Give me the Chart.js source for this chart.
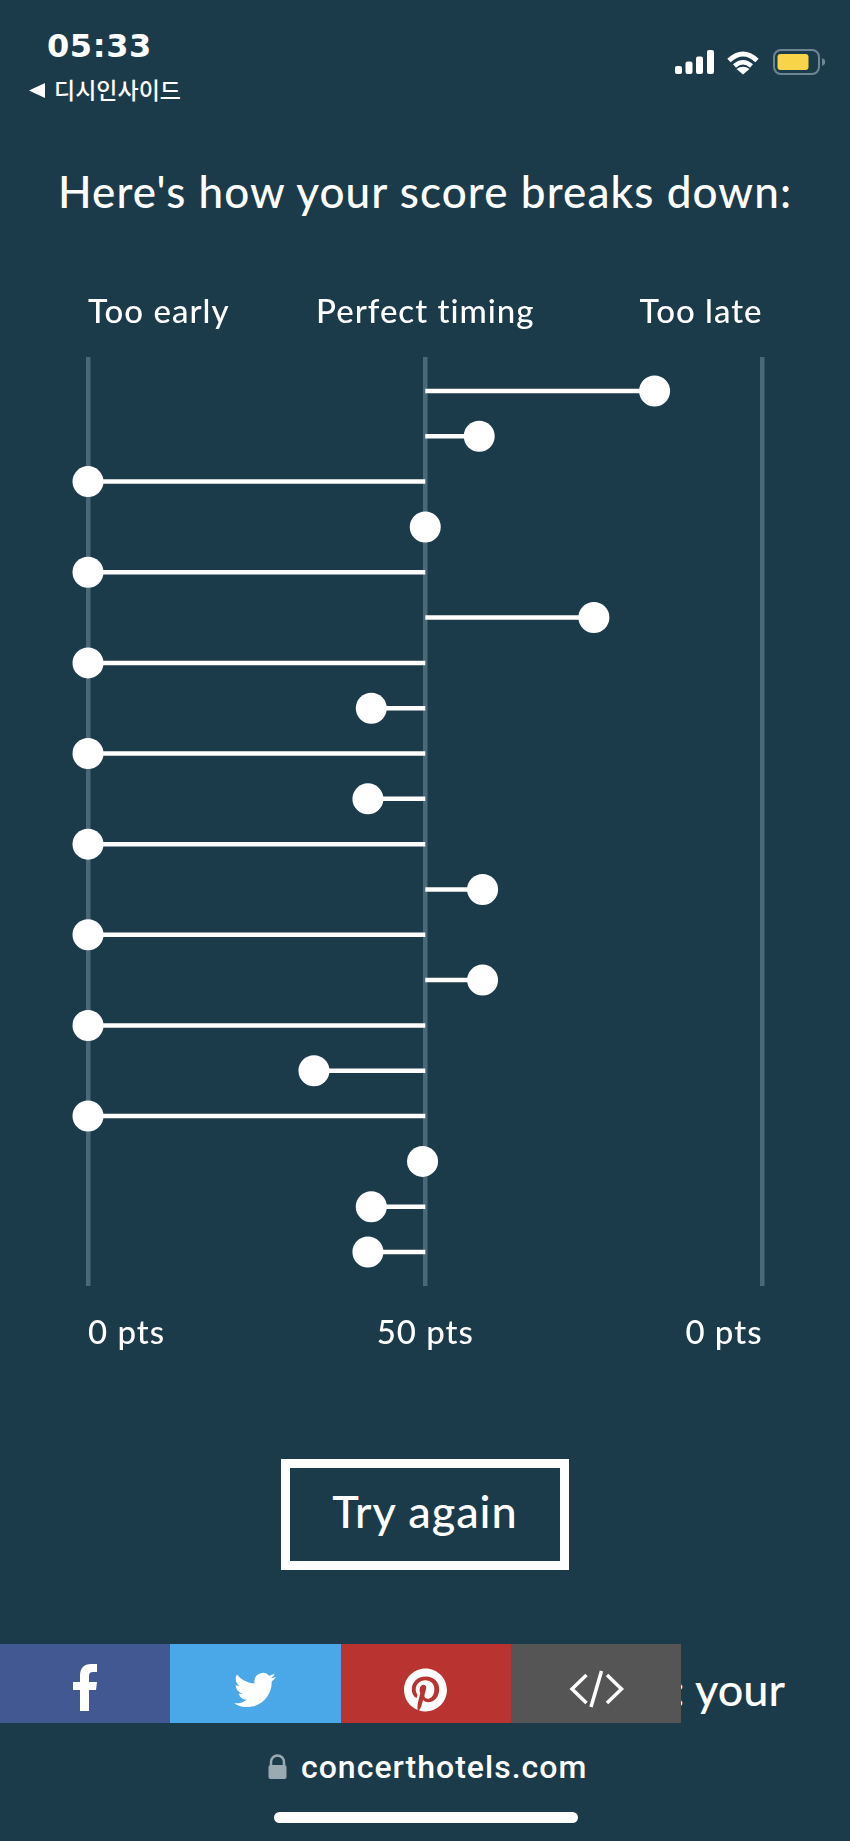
<!DOCTYPE html>
<html>
<head>
<meta charset="utf-8">
<title>Score breakdown</title>
<script src="https://cdn.jsdelivr.net/npm/chart.js@4"></script>
<style>
    html, body { margin: 0; padding: 0; background: #1c3b4a; }
    body { width: 850px; height: 1841px; position: relative; overflow: hidden; color: #fff; font-family: Lato, sans-serif; }
    .t { position: absolute; white-space: nowrap; line-height: 1; }
    #chartBox { position: absolute; left: 0; top: 280px; width: 850px; height: 1090px; }
    #clock { left: 47px; top: 30px; font: bold 32px "DejaVu Sans", sans-serif; letter-spacing: 0.6px; line-height: 1; }
    #back { left: 54px; top: 78px; font: 500 23px "Noto Sans CJK KR", sans-serif; line-height: 1; }
    #title { left: 0; width: 850px; top: 169px; text-align: center; font-size: 44px; font-weight: 500; letter-spacing: 1.1px; }
    #again { left: 281px; top: 1459px; width: 270px; height: 93px; border: 9px solid #fff; text-align: center; font-size: 45px; font-weight: 500; letter-spacing: 1px; line-height: 86px; }
    #peek { left: 673.5px; top: 1667px; font-size: 45px; font-weight: 500; }
    .share { position: absolute; top: 1644px; height: 79px; }
    #address { left: 301px; top: 1751px; font: 500 32px Roboto, sans-serif; letter-spacing: 1px; line-height: 1; }
    #homebar { position: absolute; left: 274px; top: 1812px; width: 304px; height: 11px; border-radius: 6px; background: #fff; }
    svg { position: absolute; left: 0; top: 0; }
</style>
</head>
<body>
    <div class="t" id="clock">05:33</div>
    <div class="t" id="back">디시인사이드</div>
    <div class="t" id="title">Here's how your score breaks down:</div>

    <div id="chartBox"><canvas id="chartCanvas"></canvas></div>

    <div class="t" id="again">Try again</div>
    <div class="t" id="peek">: your</div>

    <div class="share" style="left:0;width:170px;background:#425892"></div>
    <div class="share" style="left:170px;width:171px;background:#4aa7e8"></div>
    <div class="share" style="left:341px;width:170px;background:#b93431"></div>
    <div class="share" style="left:511px;width:170px;background:#555555"></div>

    <div class="t" id="address">concerthotels.com</div>
    <div id="homebar"></div>

    <svg width="850" height="1841" fill="#fff">
        <!-- back arrow -->
        <path d="M45 83 V98 L29 90.5 Z"/>
        <!-- signal -->
        <rect x="675" y="66" width="7" height="8" rx="2"/>
        <rect x="685.5" y="61.5" width="7" height="12.5" rx="2"/>
        <rect x="696" y="56.5" width="7" height="17.5" rx="2"/>
        <rect x="707" y="50" width="7" height="24" rx="2"/>
        <!-- wifi -->
        <path d="M729 60.5 Q743 47.5 757 60.5" fill="none" stroke="#fff" stroke-width="5"/>
        <path d="M734.5 66 Q743 58.5 751.5 66" fill="none" stroke="#fff" stroke-width="4.5"/>
        <path d="M743 74.5 L736.5 69 Q743 64.5 749.5 69 Z"/>
        <!-- battery -->
        <rect x="774" y="50" width="45" height="24" rx="7" fill="none" stroke="#6e8693" stroke-width="2"/>
        <rect x="777.5" y="54" width="31" height="16" rx="3" fill="#f7d448"/>
        <path d="M822 58 L825 60 V64 L822 66 Z" fill="#6e8693"/>
        <!-- facebook -->
        <path d="M80 1711 V1690 H73 V1682 H80 V1676 C80 1668 84 1664 91 1664 H97 V1672 H93 C90 1672 89 1673.5 89 1676 V1682 H97 L96 1690 H89 V1711 Z"/>
        <!-- twitter -->
        <path transform="translate(234 1669) scale(1.75)" d="M23.953 4.57a10 10 0 01-2.825.775 4.958 4.958 0 002.163-2.723c-.951.555-2.005.959-3.127 1.184a4.92 4.92 0 00-8.384 4.482C7.69 8.095 4.067 6.13 1.64 3.162a4.822 4.822 0 00-.666 2.475c0 1.71.87 3.213 2.188 4.096a4.904 4.904 0 01-2.228-.616v.06a4.923 4.923 0 003.946 4.827 4.996 4.996 0 01-2.212.085 4.936 4.936 0 004.604 3.417 9.867 9.867 0 01-6.102 2.105c-.39 0-.779-.023-1.17-.067a13.995 13.995 0 007.557 2.209c9.053 0 13.998-7.496 13.998-13.985 0-.21 0-.42-.015-.63A9.935 9.935 0 0024 4.59z"/>
        <!-- pinterest -->
        <path transform="translate(404 1668.5) scale(1.79)" d="M12.017 0C5.396 0 .029 5.367.029 11.987c0 5.079 3.158 9.417 7.618 11.162-.105-.949-.199-2.403.041-3.439.219-.937 1.406-5.957 1.406-5.957s-.359-.72-.359-1.781c0-1.663.967-2.911 2.168-2.911 1.024 0 1.518.769 1.518 1.688 0 1.029-.653 2.567-.992 3.992-.285 1.193.6 2.165 1.775 2.165 2.128 0 3.768-2.245 3.768-5.487 0-2.861-2.063-4.869-5.008-4.869-3.41 0-5.409 2.562-5.409 5.199 0 1.033.394 2.143.889 2.741.099.12.112.225.085.345-.09.375-.293 1.199-.334 1.363-.053.225-.172.271-.401.165-1.495-.69-2.433-2.878-2.433-4.646 0-3.776 2.748-7.252 7.92-7.252 4.158 0 7.392 2.967 7.392 6.923 0 4.135-2.607 7.462-6.233 7.462-1.214 0-2.354-.629-2.758-1.379l-.749 2.848c-.269 1.045-1.004 2.352-1.498 3.146 1.123.345 2.306.535 3.55.535 6.607 0 11.985-5.365 11.985-11.987C23.97 5.39 18.592.026 11.985.026L12.017 0z"/>
        <!-- embed -->
        <g fill="none" stroke="#fff" stroke-width="3.5">
            <path d="M586.5 1675 L572 1689 L586.5 1703"/>
            <path d="M601.5 1671 L591 1707"/>
            <path d="M607 1675 L621.5 1689 L607 1703"/>
        </g>
        <!-- lock -->
        <path d="M271 1765 V1762 A6.5 6.5 0 0 1 284 1762 V1765" fill="none" stroke="#9aa9b2" stroke-width="2.5"/>
        <rect x="268.5" y="1765" width="18" height="14" rx="2" fill="#9aa9b2"/>
    </svg>

    <script>
        // Tick labels above and below the plot
        const topLabels = ["Too early", "Perfect timing", "Too late"];
        const bottomLabels = ["0 pts", "50 pts", "0 pts"];

        // Question number, top to bottom
        const questions = [1, 2, 3, 4, 5, 6, 7, 8, 9, 10, 11, 12, 13, 14, 15, 16, 17, 18, 19, 20];
        // Where each answer landed: 0 = too early, 50 = perfect, 100 = too late
        const timing = [84, 58, 0, 50, 0, 75, 0, 42, 0, 41.5, 0, 58.5, 0, 58.5, 0, 33.5, 0, 49.6, 42, 41.5];
        const perfect = 50;

        // One dataset per row: a stem from the centre line out to the dot
        const stems = questions.map(function (q, i) {
            return {
                data: [{ x: perfect, y: q }, { x: timing[i], y: q }],
                showLine: true,
                borderColor: "#fff",
                borderWidth: 4.5,
                backgroundColor: "#fff",
                pointRadius: [0, 15.5],
                pointBorderWidth: 0,
                clip: false
            };
        });

        function labelFrom(list) {
            return function (value) {
                return list[value / 50];
            };
        }

        const labelFont = { family: "Lato", size: 33, weight: "500" };

        // the labels run wider than Lato, so space them out a bit
        const spacedText = {
            id: "spacedText",
            beforeLayout: function (chart) { chart.ctx.letterSpacing = "1px"; },
            beforeDraw: function (chart) { chart.ctx.letterSpacing = "1px"; }
        };

        new Chart(document.getElementById("chartCanvas"), {
            type: "scatter",
            data: { datasets: stems },
            plugins: [spacedText],
            options: {
                responsive: true,
                maintainAspectRatio: false,
                animation: false,
                layout: { padding: { left: 88, right: 87.5, top: 0, bottom: 0 } },
                plugins: { legend: { display: false }, tooltip: { enabled: false } },
                scales: {
                    x: {
                        type: "linear",
                        position: "bottom",
                        min: 0,
                        max: 100,
                        border: { display: false },
                        grid: { color: "#4a6877", lineWidth: 4.5, drawTicks: false },
                        afterFit: function (axis) { axis.height = 84; },
                        ticks: {
                            stepSize: 50,
                            align: "inner",
                            maxRotation: 0,
                            padding: 28,
                            color: "#fff",
                            font: labelFont,
                            callback: labelFrom(bottomLabels)
                        }
                    },
                    xTop: {
                        type: "linear",
                        position: "top",
                        min: 0,
                        max: 100,
                        border: { display: false },
                        grid: { display: false, drawTicks: false },
                        afterFit: function (axis) { axis.height = 77; },
                        ticks: {
                            stepSize: 50,
                            align: "inner",
                            maxRotation: 0,
                            padding: 25,
                            color: "#fff",
                            font: labelFont,
                            callback: labelFrom(topLabels)
                        }
                    },
                    y: {
                        type: "linear",
                        display: false,
                        reverse: true,
                        min: 0.25,
                        max: 20.75
                    }
                }
            }
        });
    </script>
</body>
</html>
